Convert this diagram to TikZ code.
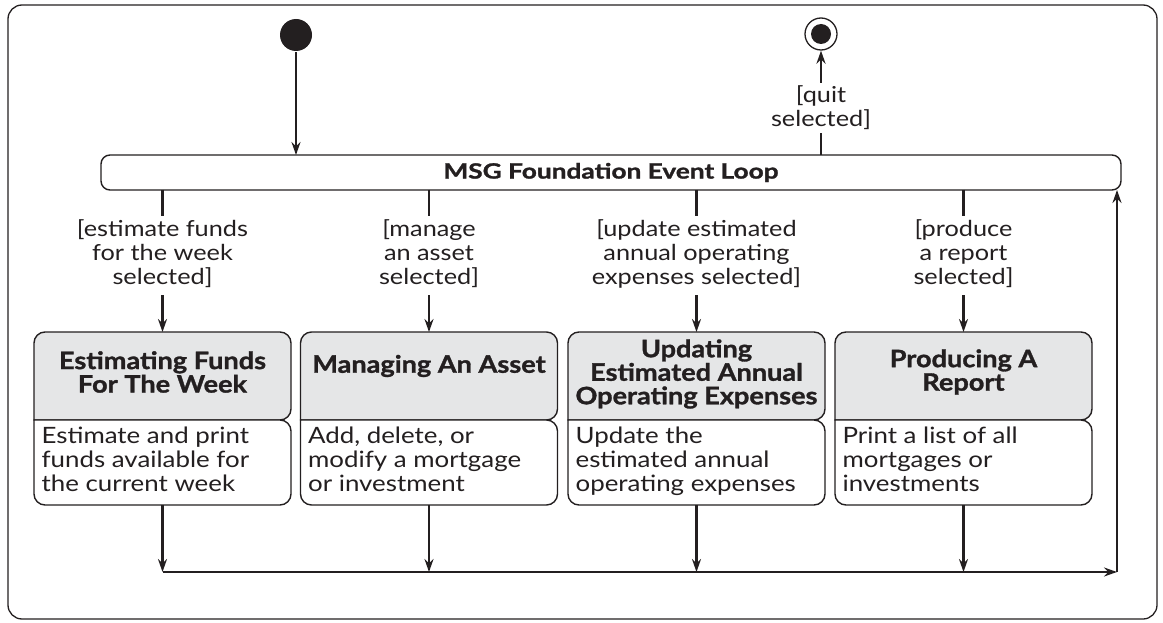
\documentclass[tikz,border=0pt]{standalone}
\usepackage{fontspec}
\setmainfont{Lato}[FakeStretch=1.15]
\newfontfamily\hdrfont{Lato}[FakeStretch=1.13, FakeBold=1.3]
\newfontfamily\loopfont{Lato}[FakeStretch=1.25, FakeBold=1.3]
\usetikzlibrary{arrows.meta}
\definecolor{hdrgray}{RGB}{229,230,231}
\definecolor{ink}{RGB}{35,31,32}
\begin{document}
\begin{tikzpicture}[x=1pt,y=-1pt,
  line width=2.2pt, draw=ink,
  arr/.style={draw=ink, line width=2.2pt, -{Stealth[length=13pt,width=9pt]}},
  guard/.style={align=center, font=\fontsize{22}{24}\selectfont, text=ink, inner sep=2pt},
  hdr/.style={align=center, font=\hdrfont\bfseries\fontsize{24}{23.5}\selectfont, text=ink},
  body/.style={align=left, anchor=north west, font=\fontsize{22.5}{24}\selectfont, text=ink, inner sep=0pt},
  boxline/.style={line width=1.4pt, draw=ink, rounded corners=11pt},
]
\useasboundingbox (0,0) rectangle (1163,623);
% outer frame
\draw[line width=1.3pt, rounded corners=14pt] (8,5) rectangle (1157,619);
% start and final
\node[circle, fill=ink, minimum size=32pt, inner sep=0pt] (start) at (296,35) {};
\node[circle, draw=ink, line width=1.3pt, minimum size=32pt, inner sep=0pt] (final) at (821,34) {};
\fill[ink] (final.center) circle (10pt);
% event loop
\draw[boxline, rounded corners=9pt, fill=white] (101,155) rectangle (1121,190);
\node[font=\loopfont\bfseries\fontsize{21}{22}\selectfont, text=ink] (loop) at (611,172.5) {MSG Foundation Event Loop};
\coordinate (looptop) at (296,155);
\draw[arr] (start) -- (looptop);
% quit
\node[guard] (quit) at (821,108) {[quit\\selected]};
\draw (821,155) -- (quit.south);
\draw[arr] (quit.north) -- (final.south);
% boxes
\foreach \i/\cx/\g/\h/\hy/\b in {
  1/162.5/{[estimate funds\\for the week\\selected]}/{Estimating Funds\\For The Week}/372/{Estimate and print\\funds available for\\the current week},
  2/429/{[manage\\an asset\\selected]}/{Managing An Asset}/366/{Add, delete, or\\modify a mortgage\\or investment},
  3/696.5/{[update estimated\\annual operating\\expenses selected]}/{Updating\\Estimated Annual\\Operating Expenses}/374/{Update the\\estimated annual\\operating expenses},
  4/963.5/{[produce\\a report\\selected]}/{Producing A\\Report}/372/{Print a list of all\\mortgages or\\investments}}
{
  \draw[boxline, fill=hdrgray]
    (\cx-128.5,420) -- (\cx-128.5,332) -- (\cx+128.5,332) -- (\cx+128.5,420) [sharp corners] -- cycle;
  \draw[boxline, fill=white]
    (\cx-128.5,420) -- (\cx-128.5,505) -- (\cx+128.5,505) -- (\cx+128.5,420) [sharp corners] -- cycle;
  \node[hdr] (h\i) at (\cx,\hy) {\h};
  \node[body] (b\i) at (\cx-122,426) {\b};
  \coordinate (top\i) at (\cx,332);
  \coordinate (bot\i) at (\cx,505);
  \coordinate (lb\i) at (\cx,190);
  \coordinate (out\i) at (\cx,572);
  \node[guard] (g\i) at (\cx,254) {\g};
  \draw (lb\i) -- (\cx,216);
  \draw[arr] (\cx,295) -- (top\i);
  \draw[arr] (bot\i) -- (out\i);
}
\coordinate (corner) at (1117,572);
\coordinate (ret) at (1117,190);
\draw[arr] (out1) -- (corner);
\draw[arr] (corner) -- (ret);
\end{tikzpicture}
\end{document}
